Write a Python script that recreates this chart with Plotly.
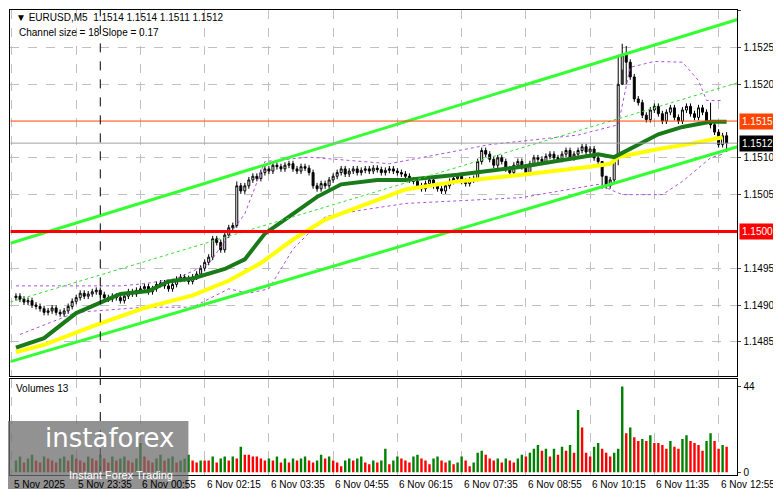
import plotly.graph_objects as go

BASE = 1.148
# closes in points (0.00001) above 1.14800, one per 5-minute bar
closes = [
    112, 108, 104, 106, 100, 98, 95, 90, 92, 96, 90, 88, 92, 98, 105, 110, 116, 112, 115, 118, 120, 114, 110, 108, 112,
    110, 106, 112, 118, 115, 120, 122, 125, 118, 122, 128, 130, 126, 122, 128, 135, 138, 136, 132, 138, 142,
    150, 158, 165, 190, 185, 175, 195, 205, 208, 262, 255,
    262, 270, 275, 272, 280, 285, 282, 290, 288, 285, 290, 292, 285, 282, 288, 286, 280,
    262, 258, 265, 262, 270,
    275, 280, 285, 278, 282, 285, 280, 283, 285, 282, 286, 284, 280, 283, 285, 282, 280, 278, 275, 270,
    268, 262, 258, 265, 270, 262, 258, 255, 262, 268, 272, 275, 268, 265, 270, 272,
    295, 310, 305, 298, 290, 300, 295, 285, 280, 290, 295, 288, 280, 292, 300, 298, 295, 302, 305,
    300, 298, 305, 310, 300, 305, 310, 315, 308, 312, 300, 295,
    275, 262, 270,
    300, 400, 440,
    430, 410, 380,
    375, 358, 352, 365, 370, 360, 350, 362, 368,
    355, 350, 365, 370, 360, 355, 368, 362, 350, 345,
    335, 318, 330, 320,
]
first_open = 110
# a few bars with longer wicks: bar -> (high, low)
long_wicks = {55: (268, 205), 146: (282, 258), 147: (275, 258), 150: (440, 290), 151: (455, 420),
              152: (452, 400), 173: (375, 340), 177: (335, 308)}

volumes = [
    6, 8, 5, 7, 9, 6, 5, 8, 7, 6, 5, 7, 8, 6, 9, 7, 6, 5, 8, 7, 6, 9, 7, 5, 8,
    6, 7, 8, 6, 5, 7, 15, 8, 6, 5, 7, 9, 6, 7, 8, 5, 6, 7, 9, 6, 5,
    6, 6, 6, 8, 5, 7, 8, 6, 8, 7, 13,
    9, 9, 8, 8, 7, 6, 7, 6, 8, 5, 7, 5, 7, 6, 7, 8, 6,
    5, 6, 9, 7, 8,
    6, 5, 3, 6, 7, 6, 7, 8, 5, 4, 6, 5, 6, 12, 4, 6, 8, 7, 6, 5,
    8, 9, 7, 6, 4, 7, 8, 6, 5, 6, 4, 5, 8, 6, 3, 5,
    10, 11, 9, 7, 6, 7, 5, 7, 6, 5, 7, 9, 8, 10, 12, 14, 11, 12, 8,
    12, 9, 13, 11, 14, 10, 32, 23, 10, 8, 13, 15,
    12, 10, 8,
    10, 12, 44,
    20, 23, 18,
    16, 17, 16, 19, 15, 15, 14, 12, 16,
    13, 12, 17, 19, 16, 15, 14, 11, 16, 20,
    16, 12, 14, 13,
]

# moving averages and envelopes, (bar, points)
ma_fast_bars = [0, 7, 15, 21, 26, 33, 38, 44, 52, 57, 62, 69, 75, 81, 90, 97, 110, 126, 140, 145, 149, 153, 160, 166, 173, 177]
ma_fast_vals = [42, 55, 89, 103, 115, 119, 132, 136, 149, 162, 197, 224, 247, 264, 270, 270, 277, 288, 301, 305, 301, 312, 332, 342, 349, 349]
ma_slow_bars = [0, 7, 19, 32, 44, 53, 61, 69, 77, 86, 97, 110, 126, 143, 148, 150, 160, 168, 176]
ma_slow_vals = [36, 46, 71, 96, 113, 133, 157, 189, 216, 234, 257, 268, 277, 288, 292, 301, 312, 319, 328]
env_up_bars = [0, 26, 32, 40, 48, 57, 62, 73, 93, 118, 140, 150, 153, 159, 166, 170, 172, 176]
env_up_vals = [126, 126, 129, 136, 156, 224, 295, 301, 292, 318, 331, 345, 423, 431, 430, 405, 378, 378]
env_dn_bars = [1, 15, 32, 44, 53, 58, 63, 69, 77, 86, 97, 126, 145, 151, 161, 166, 173, 176]
env_dn_vals = [60, 90, 97, 97, 122, 116, 122, 176, 220, 229, 238, 246, 264, 250, 250, 268, 300, 305]

channel_bars = [-1.4, 179.7]
channel_up = [184, 488]
channel_mid = [104, 402]
channel_dn = [23, 315]

time_bars = [-1, 15, 31, 47, 63, 79, 95, 111, 127, 143, 159, 175]
time_labels = ["5 Nov 2025", "5 Nov 23:35", "6 Nov 00:55", "6 Nov 02:15", "6 Nov 03:35", "6 Nov 04:55",
               "6 Nov 06:15", "6 Nov 07:35", "6 Nov 08:55", "6 Nov 10:15", "6 Nov 11:35", "6 Nov 12:55"]
price_ticks = [1.1485, 1.1490, 1.1495, 1.1505, 1.1510, 1.1520, 1.1525, 1.1530]

p = lambda v: BASE + v / 1e5

bars = list(range(len(closes)))
opens = [first_open] + closes[:-1]
highs, lows = [], []
for i in bars:
    h, l = max(opens[i], closes[i]) + 4, min(opens[i], closes[i]) - 4
    if i in long_wicks:
        h, l = long_wicks[i]
    highs.append(h)
    lows.append(l)

FONT = "Liberation Sans"

fig = go.Figure()
fig.add_trace(go.Candlestick(
    x=bars, open=[p(v) for v in opens], high=[p(v) for v in highs],
    low=[p(v) for v in lows], close=[p(v) for v in closes],
    increasing=dict(line=dict(color="black", width=1), fillcolor="white"),
    decreasing=dict(line=dict(color="black", width=1), fillcolor="black"),
    whiskerwidth=0, showlegend=False, hoverinfo="skip",
))

for bx, vals, col, w, dash in [
    (env_up_bars, env_up_vals, "#B050E0", 1, "dot"),
    (env_dn_bars, env_dn_vals, "#B050E0", 1, "dot"),
    (ma_slow_bars, ma_slow_vals, "#FFFF00", 4, "solid"),
    (ma_fast_bars, ma_fast_vals, "#1A7A1A", 4, "solid"),
    (channel_bars, channel_up, "#33FF33", 3, "solid"),
    (channel_bars, channel_dn, "#33FF33", 3, "solid"),
    (channel_bars, channel_mid, "#33DD33", 1, "dot"),
]:
    fig.add_trace(go.Scatter(x=bx, y=[p(v) for v in vals], mode="lines",
                             line=dict(color=col, width=w, dash=dash),
                             showlegend=False, hoverinfo="skip"))

vol_colors = ["#008000"] + ["#008000" if volumes[i] > volumes[i - 1] else "#FF0000" for i in range(1, len(volumes))]
fig.add_trace(go.Bar(x=bars, y=volumes, marker=dict(color=vol_colors, line_width=0), width=0.6,
                     xaxis="x2", yaxis="y2", showlegend=False, hoverinfo="skip"))

xr = [-1.4, 179.7]
ax_common = dict(showline=True, linecolor="black", linewidth=1, mirror=True, zeroline=False)
fig.update_layout(
    width=781, height=489, margin=dict(l=0, r=0, t=0, b=0),
    paper_bgcolor="white", plot_bgcolor="white",
    font=dict(family=FONT, size=10, color="black"),
    xaxis=dict(domain=[0.003, 0.934], range=xr, tickvals=time_bars, showticklabels=False,
               showgrid=True, gridcolor="#C0C0C0", griddash="dash", rangeslider=dict(visible=False), **ax_common),
    yaxis=dict(domain=[0.242, 0.996], range=[p(3), p(501)], side="right", tickvals=price_ticks,
               tickformat=".4f", ticks="outside", ticklen=3, showgrid=True, gridcolor="#C0C0C0",
               griddash="dash", tickfont=dict(size=10), **ax_common),
    xaxis2=dict(domain=[0.003, 0.934], range=xr, anchor="y2", tickvals=time_bars, showticklabels=False,
                showgrid=True, gridcolor="#C0C0C0", griddash="dash", **ax_common),
    yaxis2=dict(domain=[0.039, 0.237], range=[-1.5, 48], side="right", anchor="x2", tickvals=[0, 44],
                ticks="outside", ticklen=3, showgrid=False, **ax_common),
    bargap=0.3,
)

# horizontal levels with price boxes
levels = [(1.1515, "#FF4500", "#FF4500"), (1.1500, "#FF0000", "#FF0000"), (1.1512, "#A0A0A0", "black")]
for lvl, col, box in levels:
    fig.add_shape(type="line", xref="x", yref="y", x0=xr[0], x1=xr[1], y0=lvl, y1=lvl,
                  line=dict(color=col, width=3 if lvl == 1.1500 else 1))
    fig.add_annotation(x=0.936, xref="paper", y=lvl, yref="y", text=f"{lvl:.4f}", showarrow=False,
                       xanchor="left", bgcolor=box, font=dict(color="white", size=10), borderpad=2)

# dashed vertical separator
for yr in ["y", "y2"]:
    fig.add_shape(type="line", xref="x", yref=f"{yr} domain", x0=21, x1=21, y0=0, y1=1,
                  line=dict(color="black", width=1, dash="dash"))

for b, t in zip(time_bars, time_labels):
    fig.add_annotation(x=b, xref="x", y=0.035, yref="paper", text=t, showarrow=False,
                       xanchor="left", yanchor="top", font=dict(size=10))

fig.add_annotation(x=0.008, xref="paper", y=0.995, yref="paper", xanchor="left", yanchor="top", showarrow=False,
                   text="▼ EURUSD,M5  1.1514 1.1514 1.1511 1.1512", font=dict(size=10))
fig.add_annotation(x=0.012, xref="paper", y=0.965, yref="paper", xanchor="left", yanchor="top", showarrow=False,
                   text="Channel size = 18 Slope = 0.17", font=dict(size=10))
fig.add_annotation(x=0.008, xref="paper", y=0.232, yref="paper", xanchor="left", yanchor="top", showarrow=False,
                   text="Volumes 13", font=dict(size=10))

# watermark
fig.add_shape(type="rect", xref="paper", yref="paper", x0=0, x1=0.231, y0=0, y1=0.15,
              fillcolor="rgba(110,110,110,0.75)", line_width=0, layer="above")
fig.add_annotation(x=0.045, xref="paper", y=0.08, yref="paper", text="instaforex", showarrow=False,
                   xanchor="left", font=dict(size=26, color="white", family="DejaVu Sans"))
fig.add_annotation(x=0.075, xref="paper", y=0.022, yref="paper", text="Instant Forex Trading", showarrow=False,
                   xanchor="left", font=dict(size=11, color="white"))

fig.write_html("out.html")
